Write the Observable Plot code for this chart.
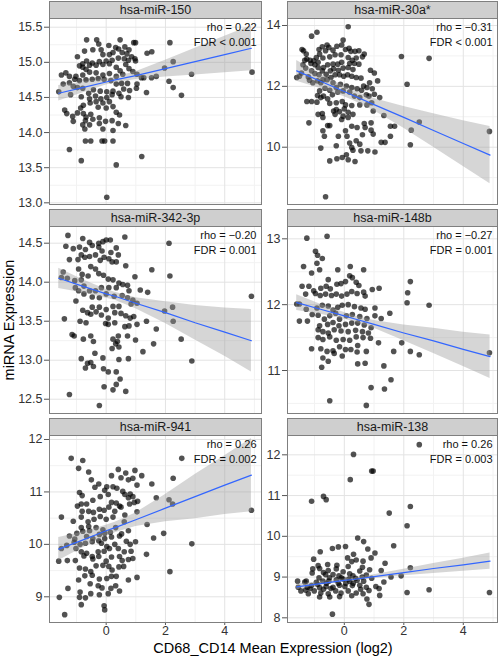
<!DOCTYPE html>
<html>
<head>
<meta charset="utf-8">
<script src="https://cdn.jsdelivr.net/npm/d3@7"></script>
<script src="https://cdn.jsdelivr.net/npm/@observablehq/plot@0.6"></script>
<style>
  body { margin: 0; background: #fff; font-family: "Liberation Sans", Arial, Helvetica, sans-serif; }
  #chart { position: relative; width: 499px; height: 660px; overflow: hidden; background: #fff; }
  .strip { position: absolute; box-sizing: border-box; height: 18px; background: #cfcfcf; border: 1px solid #7f7f7f;
           font-size: 12.5px; line-height: 16px; color: #1a1a1a; text-align: center; white-space: nowrap; }
  .panel { position: absolute; }
  .ytitle { position: absolute; width: 200px; height: 18px; line-height: 18px; left: -91px; top: 311px; text-align: center;
            transform: rotate(-90deg); font-size: 14.5px; color: #000; white-space: nowrap; }
  .xtitle { position: absolute; width: 400px; left: 73px; top: 639px; height: 18px; line-height: 18px; text-align: center;
            font-size: 14.5px; color: #000; white-space: nowrap; }
</style>
</head>
<body>
<div id="chart">
  <div class="ytitle">miRNA Expression</div>
  <div class="xtitle">CD68_CD14 Mean Expression (log2)</div>
</div>
<script>
// ---------------- data ----------------
const panelNames = ["hsa-miR-150", "hsa-miR-30a*", "hsa-miR-342-3p", "hsa-miR-148b", "hsa-miR-941", "hsa-miR-138"];
const rhoLabels = ["rho = 0.22", "rho = \u22120.31", "rho = \u22120.20", "rho = \u22120.27", "rho = 0.26", "rho = 0.26"];
const fdrLabels = ["FDR < 0.001", "FDR < 0.001", "FDR = 0.001", "FDR = 0.001", "FDR = 0.002", "FDR = 0.003"];

const xMajorTicks = [0, 2, 4];
const xMinorTicks = [-1, 1, 3, 5];

const yTicks150 = [13, 13.5, 14, 14.5, 15, 15.5];
const yTicks30a = [10, 12, 14];
const yTicks342 = [12.5, 13, 13.5, 14, 14.5];
const yTicks148b = [11, 12, 13];
const yTicks941 = [9, 10, 11, 12];
const yTicks138 = [8, 9, 10, 11, 12];

const yMinor150 = [13.25, 13.75, 14.25, 14.75, 15.25];
const yMinor30a = [9, 11, 13];
const yMinor342 = [12.75, 13.25, 13.75, 14.25];
const yMinor148b = [10.5, 11.5, 12.5];
const yMinor941 = [9.5, 10.5, 11.5];
const yMinor138 = [8.5, 9.5, 10.5, 11.5];

const yDomain150 = [12.976, 15.624];
const yDomain30a = [8.117, 14.23];
const yDomain342 = [12.317, 14.714];
const yDomain148b = [10.347, 13.187];
const yDomain941 = [8.51, 12.076];
const yDomain138 = [7.885, 12.474];

const xDomainLeft = [-1.912, 5.24];
const xDomainRight = [-1.91, 5.15];

// points: [CD68_CD14 mean expression, miRNA expression]
const miR150 = [
[-0.66,15.32],[-0.32,15.32],[0.47,15.32],[0.93,15.28],[-0.25,15.26],[0.09,15.24],[-0.17,15.18],[-0.45,15.18],[-0.73,15.16],[0.42,15.19],
[0.32,15.21],[0.63,15.22],[0.77,15.18],[0.54,15.14],[0.70,15.12],[0.23,15.14],[0.11,15.11],[-0.11,15.11],[2.15,15.28],[1.38,15.13],
[1.54,15.15],[0.99,15.28],[0.86,15.08],[0.97,15.05],[0.61,15.05],[0.41,15.06],[0.20,15.03],[0,15.02],[-0.23,15.01],[-0.47,14.99],
[-0.66,15.02],[-0.79,14.98],[-0.97,15.08],[-0.90,14.95],[-0.79,14.93],[-0.68,14.90],[-0.56,14.96],[-0.34,14.96],[-0.11,14.97],[0.11,14.98],
[0.34,14.93],[0.47,14.88],[0.66,14.97],[0.75,15.03],[0.99,15.02],[2.26,15.01],[1.97,14.92],[0.77,14.91],[0.90,14.87],[1.04,14.83],
[1.19,14.78],[1.53,14.78],[1.69,14.80],[0.56,14.83],[0.34,14.80],[0.11,14.84],[-0.11,14.82],[-0.34,14.85],[-0.56,14.86],[-0.79,14.82],
[-1.02,14.80],[-1.24,14.80],[-1.51,14.82],[-1.36,14.85],[-1.06,14.76],[-0.90,14.74],[-0.68,14.75],[-0.47,14.76],[-0.27,14.77],[-0.07,14.76],
[0.16,14.74],[0.34,14.69],[0.52,14.70],[0.72,14.70],[1.04,14.69],[1.27,14.78],[2.12,14.73],[2.26,14.64],[2.54,14.53],[2.88,14.83],
[4.92,14.86],[1.36,14.57],[0.79,14.60],[1.02,14.63],[0.59,14.62],[0.43,14.56],[0.23,14.59],[0.02,14.58],[-0.20,14.59],[-0.43,14.61],
[-0.59,14.56],[-0.79,14.63],[-0.97,14.64],[-1.11,14.66],[-1.24,14.71],[-1.45,14.69],[-1.60,14.58],[-1.20,14.54],[-0.84,14.51],[-0.56,14.48],
[-0.36,14.52],[-0.18,14.48],[0.02,14.50],[0.20,14.54],[0.50,14.51],[0.75,14.50],[0.11,14.44],[-0.11,14.42],[-0.34,14.44],[-0.54,14.42],
[-0.77,14.39],[-0.86,14.35],[-0.97,14.28],[-1.13,14.23],[-1.40,14.32],[-1.33,14.27],[-0.77,14.27],[-0.68,14.22],[-0.52,14.26],[-0.27,14.36],
[0,14.35],[0.23,14.37],[0.34,14.29],[0.45,14.25],[-0.23,14.21],[-0.45,14.19],[-0.70,14.17],[-0.79,14.11],[-1.11,14.16],[-0.23,14.13],
[-0.02,14.16],[0.20,14.17],[0.41,14.13],[0.66,14.10],[-0.72,14.05],[-0.56,14.11],[-0.11,14.05],[0.23,14.03],[-0.70,13.88],[-0.52,13.88],
[-0.14,13.88],[-0.05,13.88],[0.23,13.88],[-1.24,13.76],[-0.84,13.60],[1.20,13.66],[0.34,13.54],[0.02,13.08]
];

const miR30a = [
[0.13,13.96],[-0.92,13.78],[-1.10,13.65],[-1.42,13.21],[-1.37,13.17],[-1.28,13.06],[-1.26,12.90],[-1.15,12.86],[-1.03,12.84],[-0.94,12.95],
[-0.83,13.06],[-0.85,13.21],[-0.74,13.30],[-0.58,13.36],[-0.52,13.28],[-0.63,13.17],[-0.38,13.19],[-0.25,13.32],[-0.09,13.36],[-0.04,13.52],
[0.04,13.21],[0.16,13.25],[0.22,13.15],[0.36,13.15],[0.49,13.17],[0.67,13.06],[0.61,12.97],[0.40,12.93],[0.27,12.86],[0.13,12.95],
[-0.11,13.04],[-0.31,13.04],[-0.49,12.97],[-0.72,12.93],[-0.88,12.79],[-0.99,12.71],[-1.12,12.75],[-1.33,12.86],[-1.39,12.71],[-1.44,12.44],
[-1.51,12.33],[-1.60,12.29],[-1.30,12.60],[-0.88,12.62],[-0.70,12.62],[-0.56,12.71],[-0.38,12.73],[-0.22,12.73],[-0.09,12.79],[0.18,12.75],
[0.34,12.75],[0.49,12.73],[0.29,12.55],[0.13,12.62],[-0.04,12.60],[-0.20,12.53],[-0.36,12.58],[-0.47,12.51],[-0.61,12.40],[-0.74,12.51],
[-0.85,12.38],[-0.99,12.42],[-1.10,12.51],[-1.21,12.31],[-1.17,12.20],[-1.06,12.12],[-0.90,12.18],[-0.79,12.12],[-0.72,12.22],[-0.58,12.22],
[-0.45,12.29],[-0.31,12.38],[-0.16,12.38],[-0.02,12.33],[0.11,12.38],[0.25,12.33],[0.40,12.29],[0.56,12.27],[0.65,12.01],[0.88,12.53],
[1.01,12.44],[1.12,12.18],[0.85,12.12],[0.94,11.92],[0.76,11.96],[0.58,11.87],[0.43,11.92],[0.25,11.96],[0.07,12.01],[-0.13,12.07],
[-0.27,11.96],[-0.38,12.12],[-0.49,11.87],[-0.65,11.94],[-0.83,11.85],[-0.90,11.70],[-0.70,11.68],[-0.56,11.59],[-0.40,11.72],[-0.22,11.81],
[-0.04,11.85],[0.18,11.81],[0.34,11.68],[0.52,11.63],[0.74,11.72],[0.83,11.68],[1.01,11.74],[1.19,11.63],[2.11,12.07],[1.92,12.98],
[2.85,12.92],[-1.26,11.50],[-1.10,11.50],[-0.92,11.48],[-0.79,11.63],[-0.49,11.44],[-0.27,11.46],[-0.07,11.50],[0.04,11.39],[0.25,11.37],
[0.52,11.39],[0.76,11.39],[0.92,11.46],[-0.27,11.24],[-0.36,11.19],[-0.16,11.17],[0,11.26],[0.13,11.15],[-0.04,11.02],[0.13,10.98],
[-0.74,11.11],[-0.88,11.08],[-0.31,11.08],[-0.09,10.91],[-0.72,10.98],[0.29,11.08],[0.97,11.19],[1.33,11.04],[1.55,10.69],[1.69,10.69],
[0.67,10.78],[0.90,10.80],[0.70,10.65],[0.43,10.65],[0.25,10.69],[-0.56,10.71],[-0.49,10.71],[-0.72,10.54],[0.04,10.54],[0.90,10.56],
[2.25,10.56],[2.52,10.83],[-0.67,10.36],[-0.20,10.36],[0.09,10.36],[0.61,10.41],[0.97,10.43],[1.55,10.36],[1.24,10.16],[1.37,10.16],
[2.22,10.08],[0.18,10.14],[0.25,9.99],[0.40,10.21],[0.52,10.10],[0.56,9.88],[0.79,9.88],[1.03,9.84],[0.29,9.90],[0.07,9.75],
[-0.07,9.66],[-0.25,9.62],[-0.49,9.55],[0.13,9.59],[0.36,9.53],[-0.79,9.97],[-0.27,10.05],[-1.19,10.80],[4.88,10.52],[-0.63,8.37]
];

const miR342 = [
[-1.29,14.60],[-0.79,14.56],[-0.56,14.51],[-0.25,14.50],[-0.11,14.52],[0,14.54],[0.14,14.54],[0.63,14.58],[-1.36,14.46],[-1.11,14.43],
[-0.90,14.45],[-0.70,14.42],[-0.47,14.47],[-0.25,14.45],[-0.14,14.40],[0.16,14.38],[0.34,14.44],[-0.84,14.35],[-0.72,14.32],[-0.95,14.29],
[-1.24,14.29],[-0.56,14.33],[-0.36,14.35],[-0.20,14.28],[-0.07,14.32],[0.09,14.30],[0.20,14.26],[0.34,14.26],[0.41,14.35],[0.66,14.21],
[0.97,14.07],[1.54,14.16],[2.12,14.50],[2.15,14.08],[-1.45,14.13],[-1.51,14.06],[-1.31,14.05],[-1.06,14.02],[-0.84,14.03],[-0.61,14.08],
[-0.52,14.20],[-0.93,14.17],[-0.81,14.10],[-0.36,14.17],[-0.25,14.11],[-0.09,14.09],[0.07,14.04],[0.23,14.03],[0.43,13.99],[0.56,13.97],
[0.72,13.96],[0.77,13.89],[0.34,13.93],[0.09,13.93],[-0.16,13.93],[-0.36,13.89],[-0.56,13.89],[-0.75,13.95],[-0.93,13.89],[-1.04,13.93],
[-1.02,13.76],[-0.75,13.85],[-0.47,13.81],[-0.23,13.80],[0,13.85],[0.27,13.82],[0.54,13.83],[0.72,13.80],[0.90,13.77],[1.04,13.73],
[1.15,13.90],[1.40,13.87],[0.84,13.72],[0.43,13.69],[0.23,13.69],[0,13.65],[-0.23,13.68],[-0.47,13.68],[-0.63,13.61],[-0.79,13.64],
[-0.52,13.59],[-0.34,13.62],[-0.16,13.58],[0.07,13.54],[0.29,13.61],[0.50,13.60],[0.66,13.57],[0.81,13.54],[0.93,13.56],[-0.88,13.50],
[-0.68,13.48],[-0.02,13.47],[0.07,13.46],[0.29,13.48],[0.63,13.43],[0.77,13.44],[1.04,13.46],[1.36,13.50],[1.69,13.40],[1.97,13.63],
[2.24,13.68],[2.26,13.50],[-1.41,13.53],[-1.15,13.33],[-1.08,13.31],[-0.77,13.27],[-0.52,13.31],[-0.43,13.24],[0.23,13.27],[0.41,13.31],
[0.38,13.24],[0.32,13.21],[0.43,13.17],[0.20,13.15],[0.72,13.31],[0.99,13.26],[1.24,13.11],[1.60,13.21],[2.53,13.27],[2.89,12.99],
[-0.84,13.02],[-0.63,12.96],[-0.52,12.97],[-0.38,13.09],[-0.11,13.03],[-0.09,12.89],[0.07,12.85],[-0.43,12.92],[-0.70,12.90],[0.34,12.85],
[0.47,12.76],[0.75,13.02],[0.43,13.01],[0.23,12.62],[0.34,12.69],[0.66,12.60],[-0.07,12.66],[-1.24,12.56],[-0.23,12.42],[4.90,13.82]
];

const miR148b = [
[-1.26,13.01],[-0.58,13.04],[-0.97,12.81],[-0.90,12.75],[-0.74,12.70],[-1.37,12.58],[-0.92,12.63],[-1.10,12.48],[-0.83,12.53],[-1.42,12.28],
[-1.19,12.28],[-1.03,12.21],[-0.79,12.25],[-0.61,12.28],[-0.47,12.24],[-0.25,12.31],[-0.11,12.32],[0.04,12.35],[0.18,12.44],[0.27,12.41],
[-0.22,12.53],[0.20,12.58],[0.65,12.53],[-0.54,12.38],[0.40,12.34],[0.49,12.29],[0.70,12.13],[0.94,12.23],[1.17,12.25],[0.65,12.19],
[0.43,12.17],[0.25,12.20],[0.09,12.16],[-0.09,12.13],[-0.27,12.16],[-0.43,12.14],[-0.63,12.16],[-0.81,12.14],[-0.97,12.17],[-1.30,12.16],
[-1.51,12.01],[-1.60,12.01],[-1.28,11.93],[-1.08,11.85],[-0.92,11.95],[-0.74,11.99],[-0.54,11.98],[-0.38,11.92],[-0.22,11.96],[-0.07,11.99],
[0.13,12.00],[0.34,11.97],[0.56,11.95],[0.70,11.93],[1.03,11.95],[1.53,11.87],[2.22,12.35],[2.13,12.18],[2.11,12.03],[2.85,11.99],
[-1.51,11.75],[-1.24,11.75],[-0.88,11.84],[-0.67,11.78],[-0.49,11.83],[-0.29,11.87],[-0.16,11.78],[0.07,11.83],[0.27,11.85],[0.52,11.82],
[0.76,11.79],[1.03,11.83],[1.24,11.79],[-0.83,11.68],[-0.56,11.70],[-0.38,11.73],[-0.18,11.68],[0.04,11.70],[0.25,11.72],[0.45,11.72],
[0.67,11.69],[0.90,11.65],[-0.88,11.62],[-0.72,11.59],[-0.54,11.57],[-0.34,11.62],[-0.11,11.60],[0.13,11.59],[0.38,11.61],[0.61,11.59],
[0.81,11.57],[-0.88,11.50],[-0.72,11.47],[-0.49,11.51],[-0.27,11.46],[-0.04,11.47],[0.18,11.46],[0.40,11.51],[0.63,11.50],[0.88,11.49],
[1.93,11.42],[-1.10,11.33],[-0.79,11.33],[-0.58,11.29],[-0.38,11.30],[-0.16,11.36],[0.04,11.32],[0.22,11.32],[0.45,11.38],[0.74,11.29],
[1.15,11.42],[1.66,11.29],[2.22,11.29],[2.52,11.24],[-0.72,11.19],[-0.54,11.14],[-0.76,11.05],[-0.34,11.26],[-0.07,11.22],[0.45,11.10],
[0.70,11.11],[0.43,11.28],[1.33,11.07],[1.57,10.86],[0.90,10.74],[1.35,10.72],[0.74,10.47],[-0.49,10.54],[4.88,11.27]
];

const miR941 = [
[-1.18,11.64],[-0.79,11.60],[-0.93,11.45],[-0.59,11.38],[0.41,11.43],[0.66,11.36],[0.97,11.41],[1.20,11.31],[0.18,11.31],[0.50,11.27],
[0.90,11.26],[0.75,11.23],[2.26,11.26],[2.55,11.64],[1.54,11.15],[-0.50,11.23],[-0.25,11.15],[-0.38,11.09],[0.02,11.10],[0.23,11.10],
[-0.05,11.03],[0.36,11.07],[0.56,11.01],[0.81,10.96],[1.04,11.13],[-0.90,10.99],[-0.81,10.93],[-0.20,10.91],[-0.45,10.84],[-0.66,10.77],
[-0.84,10.77],[0.07,10.95],[0.18,10.80],[0.34,10.79],[0.45,10.73],[0.63,10.95],[0.75,10.89],[0.90,10.91],[1.06,10.82],[1.69,10.89],
[2.12,10.85],[2.24,10.77],[-0.97,10.73],[-0.81,10.63],[-0.59,10.63],[-0.43,10.61],[-0.23,10.67],[-0.07,10.65],[0.09,10.71],[0.29,10.63],
[0.50,10.71],[0.79,10.77],[0.95,10.80],[1.04,10.62],[-1.51,10.52],[-1.11,10.44],[-0.84,10.52],[-0.61,10.43],[-0.41,10.48],[-0.20,10.53],
[0,10.48],[0.23,10.52],[0.63,10.56],[0.61,10.43],[1.38,10.38],[-0.59,10.34],[-0.84,10.32],[-0.99,10.21],[-0.79,10.25],[-0.56,10.26],
[-0.34,10.32],[-0.11,10.28],[0.14,10.23],[0.32,10.32],[0.52,10.20],[0.75,10.26],[-0.23,10.19],[-0.05,10.21],[-1.24,10.16],[-1.06,10.10],
[-0.66,10.15],[-0.45,10.11],[-0.25,10.07],[-0.05,10.11],[0.18,10.14],[0.45,10.16],[1.60,10.12],[1.94,10.21],[2.89,10.01],[-1.33,9.98],
[-1.08,10.04],[-0.88,10.00],[-0.70,10.02],[-0.47,10.05],[-0.16,10.02],[0.02,9.96],[0.29,10.00],[0.68,10.06],[0.81,10.00],[0.99,10.05],
[-1.51,9.92],[-1.02,9.92],[-0.84,9.86],[-0.66,9.83],[-0.47,9.77],[-0.27,9.86],[-0.07,9.87],[0.11,9.92],[0.41,9.92],[0.61,9.86],
[0.84,9.87],[-1.60,9.68],[-1.31,9.69],[-1.04,9.69],[-0.75,9.78],[-0.45,9.72],[-0.25,9.77],[0,9.68],[0.18,9.76],[0.45,9.77],
[0.54,9.69],[0.75,9.71],[0.90,9.73],[1.36,9.81],[-0.90,9.55],[-0.70,9.53],[-0.52,9.48],[-0.34,9.59],[-0.11,9.60],[0.09,9.58],
[0.20,9.51],[0.43,9.57],[0.59,9.58],[-0.72,9.40],[-0.93,9.32],[-0.47,9.41],[-0.23,9.34],[0.02,9.35],[0.18,9.39],[0.34,9.39],
[0.75,9.32],[1.04,9.37],[2.15,9.48],[-1.29,9.16],[-0.88,9.09],[-0.54,9.25],[-0.27,9.21],[-0.14,9.17],[0.16,9.16],[0.32,9.21],
[0.45,9.11],[-0.52,9.06],[-0.90,8.99],[-0.84,8.85],[-0.70,8.98],[-0.23,9.04],[0.07,9.06],[-0.07,8.83],[-0.05,8.75],[-1.58,8.99],
[-1.40,8.66],[4.90,10.65]
];

const miR138 = [
[2.52,12.25],[0.31,12.01],[0.20,11.39],[0.92,11.60],[0.97,11.60],[-0.70,10.98],[-0.61,10.90],[-1.10,10.86],[1.51,10.57],[2.22,10.73],
[2.11,10.26],[1.66,9.77],[1.37,9.34],[2.22,9.23],[0.45,9.96],[0.04,9.75],[-0.20,9.74],[-0.40,9.70],[-0.81,9.62],[0.65,9.87],
[0.79,9.69],[1.03,9.59],[0.90,9.47],[0.11,9.47],[0.31,9.56],[0.40,9.42],[0.25,9.38],[0.63,9.39],[-1.03,9.44],[-0.88,9.28],
[-0.56,9.31],[-0.25,9.29],[0.13,9.26],[0.61,9.24],[0.85,9.18],[-1.06,9.20],[-0.83,9.21],[-0.70,9.11],[-0.54,9.16],[-0.27,9.20],
[-0.04,9.13],[0.52,9.15],[0.74,9.05],[1.24,9.16],[0.18,9.08],[0.29,9.03],[0.38,8.97],[-0.18,9.03],[-0.38,9.06],[-0.63,9.06],
[-0.85,8.98],[-1.08,9.10],[-1.28,8.90],[-1.57,8.90],[-1.33,8.88],[-1.55,8.75],[-1.46,8.66],[-1.24,8.75],[-0.94,8.87],[-0.72,8.90],
[-0.52,8.90],[-0.27,8.93],[-0.04,8.95],[0.18,8.90],[0.43,8.92],[0.65,8.90],[0.92,8.97],[1.33,8.88],[1.57,9.00],[1.91,9.03],
[2.11,8.62],[2.85,8.69],[4.88,8.62],[-1.10,8.79],[-0.83,8.74],[-0.61,8.77],[-0.38,8.75],[-0.16,8.80],[0.02,8.77],[0.27,8.79],
[0.52,8.80],[0.74,8.75],[1.06,8.77],[1.17,8.72],[-1.01,8.66],[-0.79,8.61],[-0.54,8.59],[-0.29,8.66],[-0.11,8.61],[0.13,8.66],
[0.40,8.61],[0.63,8.59],[0.83,8.67],[-1.21,8.59],[-0.83,8.51],[-0.49,8.51],[-0.16,8.52],[0.25,8.54],[0.76,8.46],[0.83,8.33],
[-0.40,8.09],[1.19,8.55],[-0.90,8.82],[-0.60,8.85],[-0.45,8.72],[-0.20,8.85],[0.05,8.85],[0.30,8.85],[0.55,8.70],[-0.70,8.70],
[-1.15,8.72],[0.15,8.95],[-0.10,8.98],[0.60,9.00],[-0.50,8.98],[-1.30,8.68]
];

// fitted regression line and its confidence band, read at these x positions
const fitX = [-1.6, -0.8, 0, 0.3, 1, 2, 3, 4, 4.9];
const fit150 = [14.56, 14.64, 14.72, 14.75, 14.81, 14.91, 15.01, 15.11, 15.20];
const lo150  = [14.45, 14.565, 14.678, 14.71, 14.755, 14.79, 14.82, 14.85, 14.88];
const hi150  = [14.67, 14.715, 14.762, 14.79, 14.865, 15.03, 15.20, 15.37, 15.52];
const fit30a = [12.51, 12.17, 11.83, 11.70, 11.40, 10.98, 10.55, 10.12, 9.74];
const lo30a  = [12.17, 11.93, 11.66, 11.535, 11.20, 10.62, 10.00, 9.37, 8.80];
const hi30a  = [12.85, 12.41, 12.00, 11.865, 11.60, 11.34, 11.10, 10.87, 10.68];
const fit342 = [14.05, 13.95, 13.85, 13.82, 13.73, 13.61, 13.48, 13.36, 13.25];
const lo342  = [13.92, 13.865, 13.795, 13.77, 13.66, 13.47, 13.26, 13.05, 12.85];
const hi342  = [14.18, 14.035, 13.905, 13.87, 13.80, 13.75, 13.70, 13.67, 13.65];
const fit148b = [12.03, 11.93, 11.83, 11.79, 11.70, 11.57, 11.45, 11.32, 11.21];
const lo148b  = [11.91, 11.855, 11.78, 11.745, 11.64, 11.45, 11.26, 11.06, 10.88];
const hi148b  = [12.15, 12.005, 11.88, 11.835, 11.76, 11.69, 11.64, 11.58, 11.54];
const fit941 = [9.91, 10.08, 10.26, 10.32, 10.47, 10.69, 10.91, 11.13, 11.32];
const lo941  = [9.69, 9.93, 10.155, 10.22, 10.34, 10.43, 10.49, 10.57, 10.62];
const hi941  = [10.13, 10.23, 10.365, 10.42, 10.60, 10.95, 11.33, 11.69, 12.02];
const fit138 = [8.76, 8.84, 8.92, 8.94, 9.01, 9.11, 9.21, 9.30, 9.39];
const lo138  = [8.69, 8.795, 8.885, 8.905, 8.965, 9.03, 9.09, 9.14, 9.19];
const hi138  = [8.83, 8.885, 8.955, 8.975, 9.055, 9.19, 9.33, 9.46, 9.59];

// ---------------- layout ----------------
const panels = [
  {data: miR150, fit: fit150, lo: lo150, hi: hi150, yDomain: yDomain150, yTicks: yTicks150, yMinor: yMinor150, dec: 1},
  {data: miR30a, fit: fit30a, lo: lo30a, hi: hi30a, yDomain: yDomain30a, yTicks: yTicks30a, yMinor: yMinor30a, dec: 0},
  {data: miR342, fit: fit342, lo: lo342, hi: hi342, yDomain: yDomain342, yTicks: yTicks342, yMinor: yMinor342, dec: 1},
  {data: miR148b, fit: fit148b, lo: lo148b, hi: hi148b, yDomain: yDomain148b, yTicks: yTicks148b, yMinor: yMinor148b, dec: 0},
  {data: miR941, fit: fit941, lo: lo941, hi: hi941, yDomain: yDomain941, yTicks: yTicks941, yMinor: yMinor941, dec: 0},
  {data: miR138, fit: fit138, lo: lo138, hi: hi138, yDomain: yDomain138, yTicks: yTicks138, yMinor: yMinor138, dec: 0}
];

const rowSvgTop = [17, 225, 434];
const rowPlotH = [186, 187, 187];
const rowStripTop = [1, 209, 418];
const FONT = '"Liberation Sans", Arial, Helvetica, sans-serif';
const chartDiv = document.getElementById("chart");

panels.forEach((p, i) => {
  const col = i % 2, row = Math.floor(i / 2);
  const left = col === 0;
  const bottom = row === 2;
  const mL = left ? 49 : 25;
  const mR = left ? 1 : 2;
  const mT = 1;
  const mB = bottom ? 20 : 1;
  const W = left ? 262 : 237;
  const H = mT + rowPlotH[row] + mB;
  const svgLeft = left ? 0 : 262;
  const fitRows = fitX.map((x, k) => ({x, y: p.fit[k], lo: p.lo[k], hi: p.hi[k]}));

  const svg = Plot.plot({
    width: W, height: H,
    marginLeft: mL, marginRight: mR, marginTop: mT, marginBottom: mB,
    style: {fontFamily: FONT, fontSize: "12px", background: "transparent", overflow: "visible", color: "#333"},
    x: {domain: left ? xDomainLeft : xDomainRight, axis: null},
    y: {domain: p.yDomain, axis: null},
    marks: [
      Plot.gridX(xMinorTicks, {stroke: "#f2f2f2", strokeOpacity: 1, strokeWidth: 1}),
      Plot.gridY(p.yMinor, {stroke: "#f2f2f2", strokeOpacity: 1, strokeWidth: 1}),
      Plot.gridX(xMajorTicks, {stroke: "#e3e3e3", strokeOpacity: 1, strokeWidth: 1}),
      Plot.gridY(p.yTicks, {stroke: "#e3e3e3", strokeOpacity: 1, strokeWidth: 1}),
      Plot.dot(p.data, {x: d => d[0], y: d => d[1], r: 2.8, fill: "#000", fillOpacity: 0.68, stroke: "none"}),
      Plot.areaY(fitRows, {x: "x", y1: "lo", y2: "hi", fill: "#999999", fillOpacity: 0.4}),
      Plot.line(fitRows, {x: "x", y: "y", stroke: "#3366FF", strokeWidth: 1.2}),
      Plot.axisY(p.yTicks, {anchor: "left", tickSize: 5, tickPadding: 2, fontSize: 12.5, fill: "#333", stroke: "#555",
                            label: null, tickFormat: d => d.toFixed(p.dec)}),
      bottom ? Plot.axisX(xMajorTicks, {anchor: "bottom", tickSize: 3, tickPadding: 1, fontSize: 12.5, fill: "#333", stroke: "#555",
                                        label: null, tickFormat: d => String(d)}) : null,
      Plot.text([rhoLabels[i]], {text: d => d, frameAnchor: "top-right", dx: -5, dy: 8.5, textAnchor: "end",
                                 lineAnchor: "middle", fontSize: 11, fill: "#111"}),
      Plot.text([fdrLabels[i]], {text: d => d, frameAnchor: "top-right", dx: -5, dy: 24, textAnchor: "end",
                                 lineAnchor: "middle", fontSize: 11, fill: "#111"}),
      Plot.frame({stroke: "#7f7f7f", strokeWidth: 1})
    ]
  });
  svg.classList.add("panel");
  svg.style.left = svgLeft + "px";
  svg.style.top = rowSvgTop[row] + "px";
  chartDiv.appendChild(svg);

  const strip = document.createElement("div");
  strip.className = "strip";
  strip.textContent = panelNames[i];
  strip.style.left = (svgLeft + mL) + "px";
  strip.style.top = rowStripTop[row] + "px";
  strip.style.width = (W - mL - mR + 1) + "px";
  chartDiv.appendChild(strip);
});
</script>
</body>
</html>
